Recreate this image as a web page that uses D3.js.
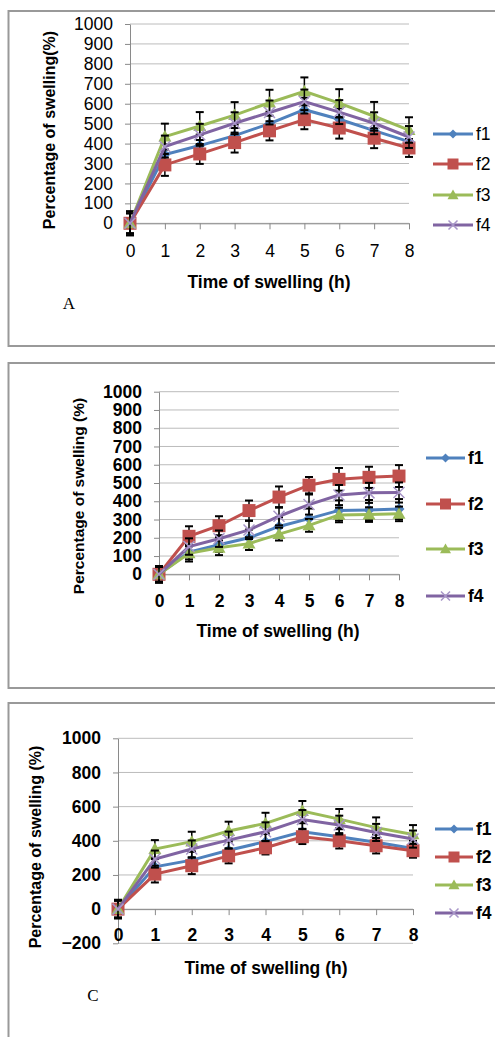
<!DOCTYPE html>
<html>
<head>
<meta charset="utf-8">
<script src="https://cdn.jsdelivr.net/npm/d3@7"></script>
<style>
  body { margin: 0; background: #fff; }
  svg { display: block; }
  text { font-family: "Liberation Sans", Arial, sans-serif; fill: #000; }
</style>
</head>
<body>
<script>
var hours = ["0", "1", "2", "3", "4", "5", "6", "7", "8"];
var names = ["f1", "f2", "f3", "f4"];
var colors = ["#4F81BD", "#C0504D", "#9BBB59", "#8064A2"];
var ticksAB = [0, 100, 200, 300, 400, 500, 600, 700, 800, 900, 1000];
var ticksC = [-200, 0, 200, 400, 600, 800, 1000];

// panel A
var aF1 = [0, 345, 390, 440, 500, 570, 522, 465, 410];
var aF2 = [0, 293, 348, 405, 464, 520, 478, 427, 378];
var aF3 = [0, 435, 488, 543, 605, 662, 603, 537, 468];
var aF4 = [0, 385, 444, 502, 556, 611, 558, 502, 433];
var aE1 = [50, 50, 55, 55, 60, 60, 55, 55, 50];
var aE2 = [60, 55, 50, 50, 48, 48, 53, 50, 45];
var aE3 = [60, 65, 70, 65, 65, 70, 70, 72, 64];
var aE4 = [50, 55, 55, 55, 60, 60, 60, 55, 55];

// panel B
var bF1 = [0, 122, 162, 200, 262, 305, 350, 352, 357];
var bF2 = [0, 208, 266, 349, 423, 488, 520, 531, 538];
var bF3 = [0, 115, 145, 168, 220, 268, 325, 327, 331];
var bF4 = [0, 152, 195, 243, 318, 382, 434, 446, 448];
var bE1 = [45, 40, 40, 45, 50, 55, 55, 55, 55];
var bE2 = [45, 55, 52, 55, 58, 45, 62, 58, 60];
var bE3 = [40, 45, 40, 35, 35, 35, 40, 40, 40];
var bE4 = [45, 45, 45, 50, 50, 55, 55, 55, 55];

// panel C
var cF1 = [0, 248, 287, 345, 395, 453, 424, 391, 355];
var cF2 = [0, 205, 254, 312, 359, 424, 400, 371, 342];
var cF3 = [0, 352, 395, 457, 502, 574, 527, 477, 437];
var cF4 = [0, 293, 352, 404, 453, 525, 492, 449, 410];
var cE1 = [50, 45, 50, 50, 50, 50, 50, 45, 45];
var cE2 = [55, 49, 49, 44, 39, 43, 45, 45, 41];
var cE3 = [50, 52, 58, 55, 62, 59, 59, 60, 55];
var cE4 = [50, 50, 50, 50, 55, 55, 55, 50, 50];

// custom marker shapes, size = width in px
var mSquare = { draw: function(c, s) { var h = s / 2; c.rect(-h, -h, s, s); } };
var mDiamond = { draw: function(c, s) { var h = s / 2; c.moveTo(0, -h); c.lineTo(h, 0); c.lineTo(0, h); c.lineTo(-h, 0); c.closePath(); } };
var mTriangle = { draw: function(c, s) { var h = s / 2; c.moveTo(0, -h); c.lineTo(h, h * 0.75); c.lineTo(-h, h * 0.75); c.closePath(); } };
var mX = { draw: function(c, s) { var h = s / 2; c.moveTo(-h, -h); c.lineTo(h, h); c.moveTo(h, -h); c.lineTo(-h, h); } };
var shapes = [mDiamond, mSquare, mTriangle, mX];
var sizes = [11, 13, 13, 11];

var svg = d3.select("body").append("svg")
  .attr("width", 495)
  .attr("height", 1037);

var panels = [
  { top: 11, bottom: 346, x0: 130, x1: 409, yTop: 24, yBot: 223.3, domain: [0, 1000], ticks: ticksAB,
    data: [aF1, aF2, aF3, aF4], errs: [aE1, aE2, aE3, aE4], bold: false,
    yTitle: "Percentage of swelling(%)", yTitleX: 51, yTitleY: 130, yTitleSize: 16,
    xTitleX: 269, xTitleY: 288, label: "A", labelX: 69, labelY: 309,
    legX0: 433, legX1: 473, legY: [134, 164, 195, 225], xPad: 15 },
  { top: 363, bottom: 688, x0: 159, x1: 399, yTop: 391.7, yBot: 574.3, domain: [0, 1000], ticks: ticksAB,
    data: [bF1, bF2, bF3, bF4], errs: [bE1, bE2, bE3, bE4], bold: true,
    yTitle: "Percentage of swelling (%)", yTitleX: 80, yTitleY: 496, yTitleSize: 15.5,
    xTitleX: 278, xTitleY: 637, label: null,
    legX0: 426, legX1: 465, legY: [458, 504, 549, 596], xPad: 14 },
  { top: 703, bottom: 1100, x0: 118, x1: 413, yTop: 738.3, yBot: 943.3, domain: [-200, 1000], ticks: ticksC,
    data: [cF1, cF2, cF3, cF4], errs: [cE1, cE2, cE3, cE4], bold: true,
    yTitle: "Percentage of swelling (%)", yTitleX: 37, yTitleY: 847, yTitleSize: 16,
    xTitleX: 266, xTitleY: 974, label: "C", labelX: 93, labelY: 1001,
    legX0: 435, legX1: 473, legY: [829, 857, 885, 913], xPad: 13 }
];

panels.forEach(function(p) {
  var g = svg.append("g");
  var weight = p.bold ? "bold" : "normal";

  // frame
  g.append("rect")
    .attr("x", 8.5).attr("y", p.top)
    .attr("width", 600).attr("height", p.bottom - p.top)
    .attr("fill", "none").attr("stroke", "#999").attr("stroke-width", 2);

  var x = d3.scalePoint().domain(hours).range([p.x0, p.x1]);
  var y = d3.scaleLinear().domain(p.domain).range([p.yBot, p.yTop]);

  // gridlines
  g.append("g").selectAll("line")
    .data(p.ticks)
    .join("line")
      .attr("x1", p.x0).attr("x2", p.x1)
      .attr("y1", function(d) { return y(d); })
      .attr("y2", function(d) { return y(d); })
      .attr("stroke", "#bcbcbc").attr("stroke-width", 1);

  // y axis
  var ya = g.append("g")
    .attr("transform", "translate(" + p.x0 + ",0)")
    .call(d3.axisLeft(y).tickValues(p.ticks).tickFormat(d3.format("d"))
      .tickSizeInner(5).tickSizeOuter(0).tickPadding(12));
  ya.selectAll("path, line").attr("stroke", "#8a8a8a");
  ya.selectAll("text")
    .style("font-family", "'Liberation Sans', Arial, sans-serif")
    .style("font-size", "17.5px").style("font-weight", weight).attr("fill", "#000");

  // x axis (crosses at zero)
  var xa = g.append("g")
    .attr("transform", "translate(0," + y(0) + ")")
    .call(d3.axisBottom(x).tickSizeInner(6).tickSizeOuter(0).tickPadding(p.xPad));
  xa.selectAll("path, line").attr("stroke", "#8a8a8a");
  xa.selectAll("text")
    .style("font-family", "'Liberation Sans', Arial, sans-serif")
    .style("font-size", "17.5px").style("font-weight", weight).attr("fill", "#000");

  var line = d3.line()
    .x(function(d, i) { return x(hours[i]); })
    .y(function(d) { return y(d); });

  p.data.forEach(function(vals, s) {
    var sg = g.append("g");
    var errs = p.errs[s];

    // error bars
    var eb = sg.append("g").selectAll("g")
      .data(vals)
      .join("g")
        .attr("transform", function(d, i) { return "translate(" + x(hours[i]) + ",0)"; });
    eb.append("line")
      .attr("y1", function(d, i) { return y(d - errs[i]); })
      .attr("y2", function(d, i) { return y(d + errs[i]); })
      .attr("stroke", "#000").attr("stroke-width", 1.5);
    eb.append("line")
      .attr("x1", -4).attr("x2", 4)
      .attr("y1", function(d, i) { return y(d + errs[i]); })
      .attr("y2", function(d, i) { return y(d + errs[i]); })
      .attr("stroke", "#000").attr("stroke-width", 2);
    eb.append("line")
      .attr("x1", -4).attr("x2", 4)
      .attr("y1", function(d, i) { return y(d - errs[i]); })
      .attr("y2", function(d, i) { return y(d - errs[i]); })
      .attr("stroke", "#000").attr("stroke-width", 2);

    sg.append("path")
      .datum(vals)
      .attr("d", line)
      .attr("fill", "none")
      .attr("stroke", colors[s])
      .attr("stroke-width", 3);

    var sym = d3.symbol().type(shapes[s]).size(sizes[s]);
    sg.append("g").selectAll("path")
      .data(vals)
      .join("path")
        .attr("transform", function(d, i) { return "translate(" + x(hours[i]) + "," + y(d) + ")"; })
        .attr("d", sym)
        .attr("fill", s === 3 ? "none" : colors[s])
        .attr("stroke", s === 3 ? "#a896c8" : "none")
        .attr("stroke-width", 1.5);
  });

  // axis titles
  g.append("text")
    .attr("transform", "translate(" + p.yTitleX + "," + p.yTitleY + ") rotate(-90)")
    .attr("text-anchor", "middle")
    .attr("dominant-baseline", "middle")
    .style("font-size", p.yTitleSize + "px").style("font-weight", "bold")
    .text(p.yTitle);

  g.append("text")
    .attr("x", p.xTitleX).attr("y", p.xTitleY)
    .attr("text-anchor", "middle")
    .style("font-size", "17.5px").style("font-weight", "bold")
    .text("Time of swelling (h)");

  if (p.label) {
    g.append("text")
      .attr("x", p.labelX).attr("y", p.labelY)
      .attr("text-anchor", "middle")
      .style("font-family", "'Liberation Serif', 'Times New Roman', serif")
      .style("font-size", "17px")
      .text(p.label);
  }

  // legend
  var leg = g.append("g").selectAll("g")
    .data(names)
    .join("g")
      .attr("transform", function(d, i) { return "translate(0," + p.legY[i] + ")"; });
  leg.append("line")
    .attr("x1", p.legX0).attr("x2", p.legX1)
    .attr("stroke", function(d, i) { return colors[i]; })
    .attr("stroke-width", 3);
  leg.append("path")
    .attr("transform", "translate(" + (p.legX0 + p.legX1) / 2 + ",0)")
    .attr("d", function(d, i) { return d3.symbol().type(shapes[i]).size(sizes[i] - 2)(); })
    .attr("fill", function(d, i) { return i === 3 ? "none" : colors[i]; })
    .attr("stroke", function(d, i) { return i === 3 ? "#a896c8" : "none"; })
    .attr("stroke-width", 1.5);
  leg.append("text")
    .attr("x", p.legX1 + 3)
    .attr("dy", "0.35em")
    .style("font-size", "17.5px").style("font-weight", weight)
    .text(function(d) { return d; });
});
</script>
</body>
</html>
